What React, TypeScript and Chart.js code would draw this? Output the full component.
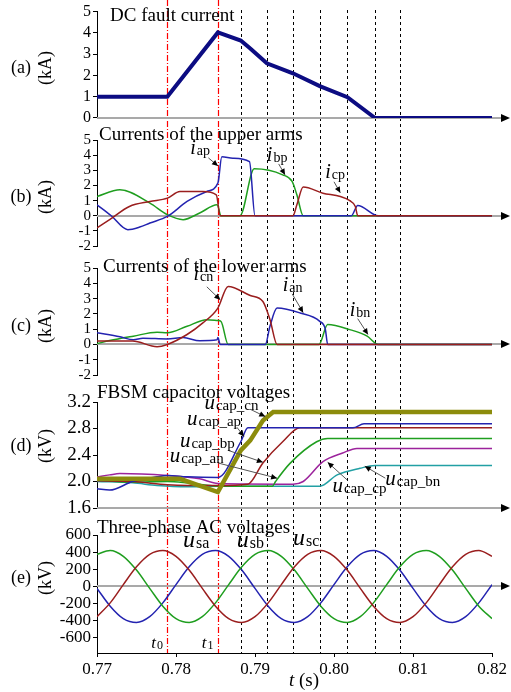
import React, { useEffect, useRef } from "react";
import { Chart, registerables } from "chart.js";

Chart.register(...registerables);

const W = 511;
const H = 692;
const SERIF = "'Liberation Serif', 'Times New Roman', serif";

// ---------- time axis ----------
const tMin = 0.77;
const tMax = 0.82;
const timeTicks = [0.77, 0.78, 0.79, 0.8, 0.81, 0.82];
const faultTimes = [0.7789, 0.7853]; // t0, t1
const faultNames = ["0", "1"];
const switchTimes = [0.7882, 0.7915, 0.7948, 0.7982, 0.8016, 0.8052, 0.8084];

// ---------- (a) DC fault current (kA) ----------
const dcTime = [0.77, 0.7789, 0.7853, 0.7882, 0.7894, 0.7915, 0.7948, 0.7982, 0.8017, 0.8052, 0.82];
const dcCurrent = [1.0, 1.0, 4.02, 3.64, 3.27, 2.57, 2.1, 1.5, 0.98, 0, 0];

// ---------- (b) upper arm currents (kA) ----------
const iapTime = [0.77, 0.7718, 0.7739, 0.7754, 0.7767, 0.7789, 0.7814, 0.7839, 0.7853, 0.7858, 0.7872, 0.7893, 0.79, 0.8022, 0.803, 0.8056, 0.82];
const iapValue = [0.72, 0.0, -0.92, -0.75, -0.48, -0.05, 0.94, 1.6, 2.15, 3.9, 3.8, 3.57, 0, 0, 0.68, 0, 0];
const ibpTime = [0.77, 0.7729, 0.7767, 0.7789, 0.7809, 0.783, 0.7852, 0.7857, 0.7881, 0.7899, 0.7935, 0.7947, 0.7953, 0.7961, 0.82];
const ibpValue = [1.27, 1.71, 0.83, 0.07, -0.26, 0.18, 0.72, 0, 0, 3.1, 2.7, 2.26, 1.38, 0, 0];
const icpTime = [0.77, 0.7716, 0.7741, 0.7767, 0.7789, 0.7805, 0.7834, 0.7851, 0.7856, 0.7948, 0.7953, 0.7961, 0.7986, 0.8008, 0.802, 0.8027, 0.803, 0.82];
const icpValue = [-0.81, -0.26, 0.61, 0.94, 1.16, 1.6, 1.6, 1.38, 0, 0, 0.72, 1.89, 1.49, 1.27, 0.99, 0.61, 0, 0];

// ---------- (c) lower arm currents (kA) ----------
const icnTime = [0.77, 0.7745, 0.7776, 0.7789, 0.7814, 0.7834, 0.7853, 0.7866, 0.7894, 0.791, 0.7919, 0.7928, 0.82];
const icnValue = [0.22, 0.22, -0.15, 0, 0.65, 1.41, 2.38, 3.79, 3.2, 2.81, 1.62, 0, 0];
const ianTime = [0.77, 0.7729, 0.7746, 0.7758, 0.7789, 0.7809, 0.783, 0.7852, 0.7853, 0.7856, 0.7913, 0.7919, 0.7928, 0.7957, 0.7982, 0.7989, 0.7992, 0.82];
const ianValue = [0.76, 0.5, 0.3, 0.4, 0.36, 0.45, 0.24, 0.3, 0.45, 0, 0, 1.2, 2.38, 2.06, 1.51, 1.0, 0, 0];
const ibnTime = [0.77, 0.7716, 0.7746, 0.7776, 0.7789, 0.7814, 0.7839, 0.7853, 0.7857, 0.7866, 0.7981, 0.7992, 0.802, 0.8042, 0.8056, 0.82];
const ibnValue = [0.05, 0.25, 0.54, 0.8, 0.76, 1.19, 1.62, 1.56, 1.5, 0, 0, 1.3, 0.97, 0.54, 0, 0];

// ---------- (d) FBSM capacitor voltages (kV) ----------
const ucnTime = [0.77, 0.7805, 0.7853, 0.7882, 0.7894, 0.791, 0.7923, 0.82];
const ucnValue = [2.04, 2.04, 1.84, 2.47, 2.62, 2.92, 3.05, 3.05];
const uapTime = [0.77, 0.7716, 0.7745, 0.7776, 0.7789, 0.7814, 0.7853, 0.7882, 0.7891, 0.8024, 0.8038, 0.82];
const uapValue = [1.89, 1.87, 2.0, 2.07, 2.09, 2.07, 2.06, 2.6, 2.81, 2.81, 2.87, 2.87];
const ubpTime = [0.77, 0.7745, 0.7789, 0.7814, 0.7853, 0.7891, 0.791, 0.7935, 0.7957, 0.82];
const ubpValue = [2.01, 2.0, 1.95, 1.94, 1.94, 1.96, 2.28, 2.6, 2.81, 2.81];
const uanTime = [0.77, 0.7745, 0.7789, 0.7814, 0.7853, 0.7922, 0.7926, 0.7944, 0.7978, 0.7992, 0.82];
const uanValue = [2.02, 1.99, 2.0, 1.98, 1.93, 1.93, 2.0, 2.27, 2.6, 2.65, 2.65];
const ucpTime = [0.77, 0.7716, 0.7729, 0.7789, 0.783, 0.7853, 0.7948, 0.7961, 0.7986, 0.8011, 0.8029, 0.82];
const ucpValue = [2.07, 2.1, 2.12, 2.09, 2.04, 1.97, 1.96, 2.0, 2.3, 2.43, 2.5, 2.5];
const ubnTime = [0.77, 0.7745, 0.7776, 0.7814, 0.7853, 0.7982, 0.8004, 0.8033, 0.8052, 0.82];
const ubnValue = [2.0, 1.98, 1.94, 1.92, 1.93, 1.93, 2.1, 2.2, 2.24, 2.24];

// ---------- (e) three-phase AC voltages (kV) ----------
const acTime = [0.77, 0.77167, 0.77333, 0.775, 0.77667, 0.77833, 0.78, 0.78167, 0.78333, 0.785, 0.78667, 0.78833, 0.79, 0.79167, 0.79333, 0.795, 0.79667, 0.79833, 0.8, 0.80167, 0.80333, 0.805, 0.80667, 0.80833, 0.81, 0.81167, 0.81333, 0.815, 0.81667, 0.81833, 0.82];
const usaValue = [-22, -229, -374, -419, -352, -191, 22, 229, 374, 419, 352, 191, -22, -229, -374, -419, -352, -191, 22, 229, 374, 419, 352, 191, -22, -229, -374, -419, -352, -191, 22];
const usbValue = [374, 419, 352, 191, -22, -229, -374, -419, -352, -191, 22, 229, 374, 419, 352, 191, -22, -229, -374, -419, -352, -191, 22, 229, 374, 419, 352, 191, -22, -229, -374];
const uscValue = [-352, -191, 22, 229, 374, 419, 352, 191, -22, -229, -374, -419, -352, -191, 22, 229, 374, 419, 352, 191, -22, -229, -374, -419, -352, -191, 22, 229, 374, 419, 352];

// ---------- colours ----------
const NAVY = "#0c0c82";
const BLUE = "#2323b0";
const GREEN = "#1f9e1f";
const RED = "#9a1e1e";
const MAGENTA = "#9c239c";
const CYAN = "#22a0a4";
const OLIVE = "#8c8c0c";

function series(time: number[], values: number[], color: string, width: number, smooth = false) {
  return {
    data: time.map((t, i) => ({ x: t, y: values[i] })),
    borderColor: color,
    backgroundColor: color,
    borderWidth: width,
    pointRadius: 0,
    fill: false,
    tension: 0,
    cubicInterpolationMode: smooth ? "monotone" : "default",
  };
}

type Note = {
  t: number;
  v: number;
  main: string;
  sub: string;
  mainSize: number;
  subSize: number;
  from?: [number, number];
  to?: [number, number];
};

type Panel = {
  key: string;
  letter: string;
  unit: string;
  labelY: number;
  title: string;
  titleX: number;
  titleY: number;
  yMin: number;
  yMax: number;
  yTicks: number[];
  decimals: number;
  tickSize: number;
  padTop: number;
  padBottom: number;
  showX: boolean;
  axisAt: number;
  guides: boolean;
  datasets: any[];
  notes: Note[];
};

const panels: Panel[] = [
  {
    key: "a", letter: "(a)", unit: "(kA)", labelY: 68,
    title: "DC fault current", titleX: 110, titleY: 21,
    yMin: 0, yMax: 5, yTicks: [0, 1, 2, 3, 4, 5], decimals: 0, tickSize: 16,
    padTop: 11, padBottom: H - 118, showX: false, axisAt: 0, guides: true,
    datasets: [series(dcTime, dcCurrent, NAVY, 4)],
    notes: [],
  },
  {
    key: "b", letter: "(b)", unit: "(kA)", labelY: 197,
    title: "Currents of the upper arms", titleX: 99, titleY: 140,
    yMin: -2, yMax: 5, yTicks: [-2, -1, 0, 1, 2, 3, 4, 5], decimals: 0, tickSize: 15,
    padTop: 140, padBottom: H - 246, showX: false, axisAt: 0, guides: false,
    datasets: [
      series(icpTime, icpValue, RED, 1.5, true),
      series(iapTime, iapValue, BLUE, 1.5, true),
      series(ibpTime, ibpValue, GREEN, 1.5, true),
    ],
    notes: [
      { t: 0.7818, v: 4.08, main: "i", sub: "ap", mainSize: 20, subSize: 14, from: [0.7841, 3.82], to: [0.78532, 3.29] },
      { t: 0.7915, v: 3.62, main: "i", sub: "bp", mainSize: 20, subSize: 14, from: [0.793, 3.42], to: [0.7938, 2.7] },
      { t: 0.7989, v: 2.5, main: "i", sub: "cp", mainSize: 20, subSize: 14, from: [0.8, 2.24], to: [0.8008, 1.51] },
    ],
  },
  {
    key: "c", letter: "(c)", unit: "(kA)", labelY: 326,
    title: "Currents of the lower arms", titleX: 103, titleY: 272,
    yMin: -2, yMax: 5, yTicks: [-2, -1, 0, 1, 2, 3, 4, 5], decimals: 0, tickSize: 15,
    padTop: 268, padBottom: H - 375, showX: false, axisAt: 0, guides: false,
    datasets: [
      series(icnTime, icnValue, RED, 1.5, true),
      series(ianTime, ianValue, BLUE, 1.5, true),
      series(ibnTime, ibnValue, GREEN, 1.5, true),
    ],
    notes: [
      { t: 0.7822, v: 4.22, main: "i", sub: "cn", mainSize: 20, subSize: 14, from: [0.7839, 3.77], to: [0.7856, 2.92] },
      { t: 0.7935, v: 3.51, main: "i", sub: "an", mainSize: 20, subSize: 14, from: [0.7947, 3.31], to: [0.7961, 2.08] },
      { t: 0.802, v: 1.88, main: "i", sub: "bn", mainSize: 20, subSize: 14, from: [0.803, 1.69], to: [0.8043, 0.65] },
    ],
  },
  {
    key: "d", letter: "(d)", unit: "(kV)", labelY: 446,
    title: "FBSM capacitor voltages", titleX: 97, titleY: 398,
    yMin: 1.6, yMax: 3.2, yTicks: [1.6, 2.0, 2.4, 2.8, 3.2], decimals: 1, tickSize: 19,
    padTop: 402, padBottom: H - 508, showX: false, axisAt: 1.6, guides: false,
    datasets: [
      series(ucnTime, ucnValue, OLIVE, 4.5),
      series(uapTime, uapValue, BLUE, 1.5, true),
      series(ubpTime, ubpValue, RED, 1.5, true),
      series(uanTime, uanValue, GREEN, 1.5, true),
      series(ucpTime, ucpValue, MAGENTA, 1.5, true),
      series(ubnTime, ubnValue, CYAN, 1.5, true),
    ],
    notes: [
      { t: 0.7836, v: 3.1, main: "u", sub: "cap_cn", mainSize: 21, subSize: 15, from: [0.7894, 3.09], to: [0.7913, 2.98] },
      { t: 0.7814, v: 2.85, main: "u", sub: "cap_ap", mainSize: 21, subSize: 15, from: [0.7877, 2.82], to: [0.7886, 2.68] },
      { t: 0.7805, v: 2.52, main: "u", sub: "cap_bp", mainSize: 21, subSize: 15, from: [0.7866, 2.47], to: [0.791, 2.29] },
      { t: 0.7792, v: 2.29, main: "u", sub: "cap_an", mainSize: 21, subSize: 15, from: [0.7853, 2.28], to: [0.7928, 2.05] },
      { t: 0.7998, v: 1.84, main: "u", sub: "cap_cp", mainSize: 21, subSize: 15, from: [0.8017, 2.02], to: [0.7992, 2.29] },
      { t: 0.8065, v: 1.94, main: "u", sub: "cap_bn", mainSize: 21, subSize: 15, from: [0.8065, 2.05], to: [0.8039, 2.23] },
    ],
  },
  {
    key: "e", letter: "(e)", unit: "(kV)", labelY: 578,
    title: "Three-phase AC voltages", titleX: 97, titleY: 533,
    yMin: -775, yMax: 600, yTicks: [-600, -400, -200, 0, 200, 400, 600], decimals: 0, tickSize: 17,
    padTop: 535, padBottom: 0, showX: true, axisAt: 0, guides: false,
    datasets: [
      series(acTime, uscValue, RED, 1.5, true),
      series(acTime, usbValue, GREEN, 1.5, true),
      series(acTime, usaValue, BLUE, 1.5, true),
    ],
    notes: [
      { t: 0.7809, v: 460, main: "u", sub: "sa", mainSize: 24, subSize: 16 },
      { t: 0.7877, v: 460, main: "u", sub: "sb", mainSize: 24, subSize: 16 },
      { t: 0.7948, v: 484, main: "u", sub: "sc", mainSize: 24, subSize: 16 },
    ],
  },
];

function drawRich(ctx: CanvasRenderingContext2D, x: number, y: number, main: string, sub: string, mainSize: number, subSize: number) {
  ctx.textAlign = "left";
  ctx.textBaseline = "alphabetic";
  ctx.fillStyle = "#000";
  ctx.font = `italic ${mainSize}px ${SERIF}`;
  ctx.fillText(main, x, y);
  const w = ctx.measureText(main).width;
  ctx.font = `${subSize}px ${SERIF}`;
  ctx.fillText(sub, x + w + 1, y + 1);
}

function drawArrow(ctx: CanvasRenderingContext2D, x1: number, y1: number, x2: number, y2: number) {
  ctx.save();
  ctx.strokeStyle = "#555";
  ctx.lineWidth = 1;
  ctx.setLineDash([]);
  ctx.beginPath();
  ctx.moveTo(x1, y1);
  ctx.lineTo(x2, y2);
  ctx.stroke();
  const a = Math.atan2(y2 - y1, x2 - x1);
  const L = 6;
  const h = 2.8;
  ctx.fillStyle = "#000";
  ctx.beginPath();
  ctx.moveTo(x2, y2);
  ctx.lineTo(x2 - L * Math.cos(a) + h * Math.sin(a), y2 - L * Math.sin(a) - h * Math.cos(a));
  ctx.lineTo(x2 - L * Math.cos(a) - h * Math.sin(a), y2 - L * Math.sin(a) + h * Math.cos(a));
  ctx.closePath();
  ctx.fill();
  ctx.restore();
}

function overlay(p: Panel) {
  return {
    id: "overlay_" + p.key,
    beforeDatasetsDraw(chart: any) {
      const { ctx, chartArea, scales } = chart;
      const xs = scales.x;
      const ys = scales.y;
      ctx.save();
      if (p.guides) {
        ctx.lineWidth = 1;
        ctx.strokeStyle = "#000";
        ctx.setLineDash([3, 3]);
        switchTimes.forEach((t) => {
          const px = Math.round(xs.getPixelForValue(t)) + 0.5;
          ctx.beginPath();
          ctx.moveTo(px, 10);
          ctx.lineTo(px, 653);
          ctx.stroke();
        });
        ctx.strokeStyle = "#ff0000";
        ctx.lineWidth = 1.2;
        ctx.setLineDash([6, 2, 1, 2]);
        faultTimes.forEach((t) => {
          const px = Math.round(xs.getPixelForValue(t)) + 0.5;
          ctx.beginPath();
          ctx.moveTo(px, 0);
          ctx.lineTo(px, 653);
          ctx.stroke();
        });
        ctx.setLineDash([]);
      }
      // grey reference axis with arrow head
      const y0 = Math.round(ys.getPixelForValue(p.axisAt));
      ctx.strokeStyle = "#a9a9a9";
      ctx.lineWidth = 2;
      ctx.beginPath();
      ctx.moveTo(chartArea.left, y0);
      ctx.lineTo(chartArea.right + 11, y0);
      ctx.stroke();
      ctx.fillStyle = "#000";
      ctx.beginPath();
      ctx.moveTo(chartArea.right + 18, y0);
      ctx.lineTo(chartArea.right + 9, y0 - 4);
      ctx.lineTo(chartArea.right + 9, y0 + 4);
      ctx.closePath();
      ctx.fill();
      ctx.restore();
    },
    afterDraw(chart: any) {
      const { ctx, scales } = chart;
      const xs = scales.x;
      const ys = scales.y;
      ctx.save();
      ctx.fillStyle = "#000";
      // panel title
      ctx.font = `19px ${SERIF}`;
      ctx.textAlign = "left";
      ctx.textBaseline = "alphabetic";
      ctx.fillText(p.title, p.titleX, p.titleY);
      // letter and unit
      ctx.font = `18px ${SERIF}`;
      ctx.textAlign = "center";
      ctx.textBaseline = "middle";
      ctx.fillText(p.letter, 21, p.labelY);
      ctx.save();
      ctx.translate(46, p.labelY);
      ctx.rotate(-Math.PI / 2);
      ctx.fillText(p.unit, 0, 0);
      ctx.restore();
      // annotations
      p.notes.forEach((n) => {
        if (n.from && n.to) {
          drawArrow(
            ctx,
            xs.getPixelForValue(n.from[0]), ys.getPixelForValue(n.from[1]),
            xs.getPixelForValue(n.to[0]), ys.getPixelForValue(n.to[1])
          );
        }
        drawRich(ctx, xs.getPixelForValue(n.t), ys.getPixelForValue(n.v), n.main, n.sub, n.mainSize, n.subSize);
      });
      if (p.showX) {
        // t0 / t1 labels
        faultTimes.forEach((t, i) => {
          const px = xs.getPixelForValue(t);
          drawRich(ctx, px - 16, 648, "t", faultNames[i], 17, 12);
        });
        // axis title: t (s)
        ctx.textAlign = "left";
        ctx.textBaseline = "alphabetic";
        ctx.font = `italic 19px ${SERIF}`;
        const tw = ctx.measureText("t").width;
        ctx.font = `19px ${SERIF}`;
        const rest = " (s)";
        const rw = ctx.measureText(rest).width;
        const cx = 304;
        const x0 = cx - (tw + rw) / 2;
        ctx.font = `italic 19px ${SERIF}`;
        ctx.fillText("t", x0, 686);
        ctx.font = `19px ${SERIF}`;
        ctx.fillText(rest, x0 + tw, 686);
      }
      ctx.restore();
    },
  };
}

function makeChart(canvas: HTMLCanvasElement, p: Panel) {
  return new Chart(canvas, {
    type: "line",
    data: { datasets: p.datasets },
    options: {
      responsive: false,
      animation: false,
      devicePixelRatio: 1,
      events: [],
      layout: { padding: { left: 0, right: 19, top: p.padTop, bottom: p.padBottom } },
      plugins: {
        legend: { display: false },
        tooltip: { enabled: false },
        title: { display: false },
      },
      scales: {
        x: {
          type: "linear",
          min: tMin,
          max: tMax,
          display: p.showX,
          afterBuildTicks: (s: any) => {
            s.ticks = timeTicks.map((v) => ({ value: v }));
          },
          afterFit: (s: any) => {
            s.height = p.showX ? 39 : 0;
          },
          grid: { drawOnChartArea: false, drawTicks: true, tickLength: 4, color: "#000" },
          border: { display: true, color: "#000", width: 1 },
          ticks: {
            font: { family: SERIF, size: 17 },
            color: "#000",
            padding: 2,
            maxRotation: 0,
            autoSkip: false,
            callback: (v: any) => Number(v).toFixed(2),
          },
        },
        y: {
          type: "linear",
          min: p.yMin,
          max: p.yMax,
          afterBuildTicks: (s: any) => {
            s.ticks = p.yTicks.map((v) => ({ value: v }));
          },
          afterFit: (s: any) => {
            s.width = 97;
          },
          grid: { drawOnChartArea: false, drawTicks: true, tickLength: 4, color: "#000" },
          border: { display: true, color: "#000", width: 1 },
          ticks: {
            font: { family: SERIF, size: p.tickSize },
            color: "#000",
            padding: 2,
            autoSkip: false,
            callback: (v: any) => Number(v).toFixed(p.decimals),
          },
        },
      },
    } as any,
    plugins: [overlay(p) as any],
  });
}

export default function App() {
  const boxRef = useRef<HTMLDivElement>(null);
  useEffect(() => {
    const box = boxRef.current;
    if (!box) return;
    const canvases = Array.from(box.querySelectorAll("canvas")) as HTMLCanvasElement[];
    const charts = panels.map((p, i) => makeChart(canvases[i], p));
    return () => charts.forEach((c) => c.destroy());
  }, []);
  return (
    <div
      ref={boxRef}
      style={{ position: "fixed", left: 0, top: 0, width: W, height: H, background: "#fff" }}
    >
      {panels.map((p) => (
        <canvas
          key={p.key}
          width={W}
          height={H}
          style={{ position: "absolute", left: 0, top: 0, width: W, height: H }}
        />
      ))}
    </div>
  );
}
